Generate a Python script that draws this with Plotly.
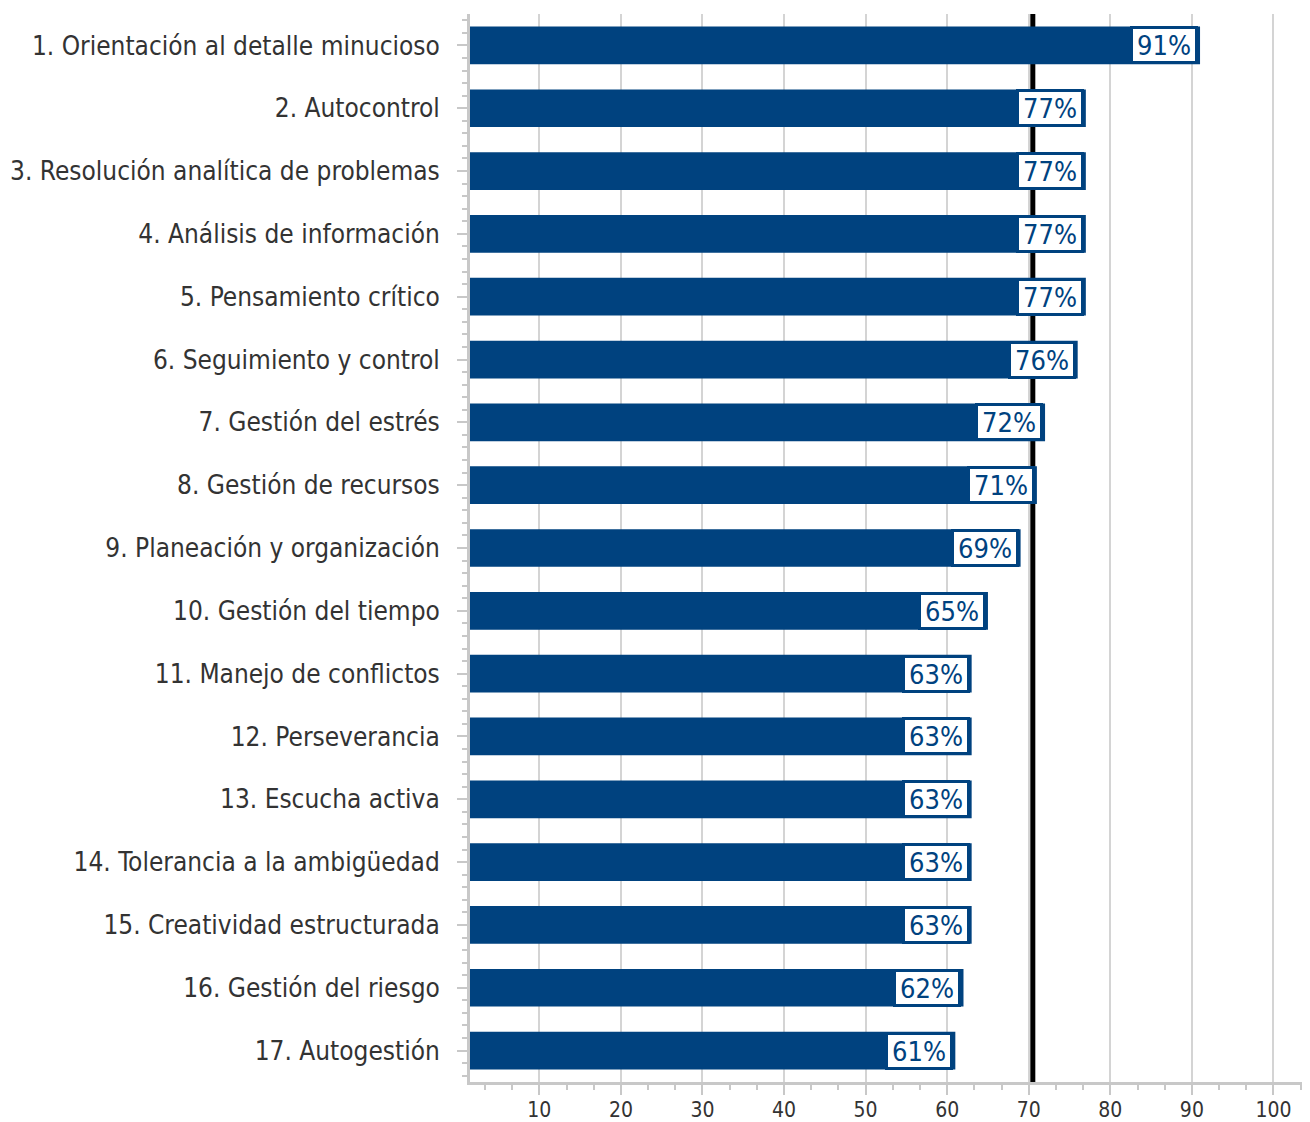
import plotly.graph_objects as go

categories = [
    "1. Orientación al detalle minucioso",
    "2. Autocontrol",
    "3. Resolución analítica de problemas",
    "4. Análisis de información",
    "5. Pensamiento crítico",
    "6. Seguimiento y control",
    "7. Gestión del estrés",
    "8. Gestión de recursos",
    "9. Planeación y organización",
    "10. Gestión del tiempo",
    "11. Manejo de conflictos",
    "12. Perseverancia",
    "13. Escucha activa",
    "14. Tolerancia a la ambigüedad",
    "15. Creatividad estructurada",
    "16. Gestión del riesgo",
    "17. Autogestión",
]
values = [91, 77, 77, 77, 77, 76, 72, 71, 69, 65, 63, 63, 63, 63, 63, 62, 61]
threshold = 70.5
x_ticks = [10, 20, 30, 40, 50, 60, 70, 80, 90, 100]

BLUE = "#00427F"
FONT = "DejaVu Sans Condensed"
pos = list(range(len(categories)))

fig = go.Figure()
fig.add_trace(go.Bar(
    x=values, y=pos, orientation="h", width=0.6,
    marker=dict(color=BLUE, line=dict(width=0)),
    hoverinfo="skip",
))

for p, v in zip(pos, values):
    fig.add_annotation(
        x=v, y=p, xref="x", yref="y", text=f"{v}%", showarrow=False,
        xanchor="right", yanchor="middle", xshift=-2,
        font=dict(family=FONT, size=27, color=BLUE),
        bgcolor="white", bordercolor=BLUE, borderwidth=3, borderpad=0,
        width=62, height=32,
    )

fig.add_shape(type="line", x0=threshold, x1=threshold, xref="x",
              y0=0, y1=1, yref="paper", line=dict(color="black", width=5),
              layer="below")

fig.update_layout(
    width=1310, height=1122,
    margin=dict(l=470, r=8, t=14, b=40),
    plot_bgcolor="white", paper_bgcolor="white",
    showlegend=False,
    bargap=0.4,
    font=dict(family=FONT, color="#333333"),
)
fig.update_xaxes(
    range=[1.5, 103.5], tickvals=x_ticks, ticks="outside", ticklen=10,
    tickwidth=2, tickcolor="#c8c8c8",
    showgrid=True, gridcolor="#d4d4d4", gridwidth=2,
    showline=True, linecolor="#c8c8c8", linewidth=3,
    tickfont=dict(family=FONT, size=21, color="#333333"),
    minor=dict(dtick=10/3, tick0=0, ticks="outside", ticklen=5,
               tickwidth=2, tickcolor="#c8c8c8", showgrid=False),
    zeroline=False, automargin=False, ticklabelstandoff=-3,
)
fig.update_yaxes(
    range=[16.5, -0.5], tickvals=pos, ticktext=categories,
    ticks="outside", ticklen=10, tickwidth=2, tickcolor="#c8c8c8",
    showgrid=False, showline=True, linecolor="#c8c8c8", linewidth=3,
    tickfont=dict(family=FONT, size=26, color="#333333"),
    minor=dict(dtick=0.2, tick0=0, ticks="outside", ticklen=5,
               tickwidth=2, tickcolor="#c8c8c8", showgrid=False),
    zeroline=False, ticklabelstandoff=12, automargin=False,
)

fig.write_html("out.html")
